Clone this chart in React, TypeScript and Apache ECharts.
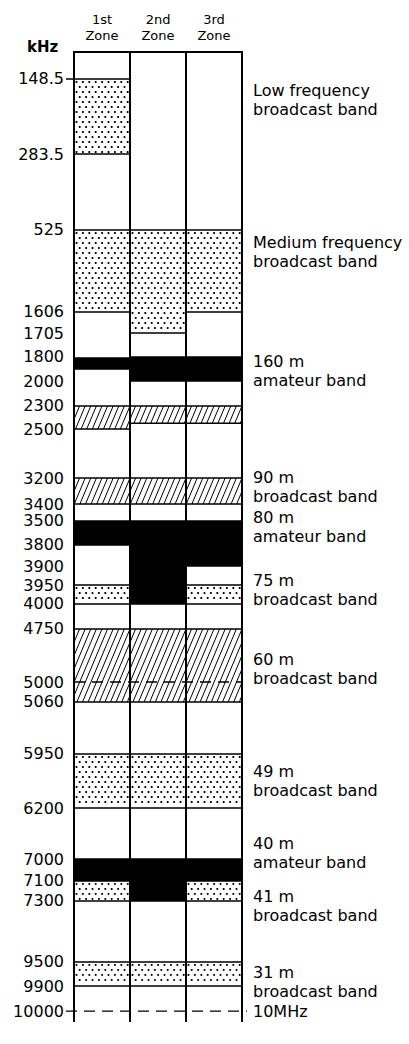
import React, { useEffect, useRef } from "react";
import * as echarts from "echarts";

// ---- data ----
const zones = ["1st\nZone", "2nd\nZone", "3rd\nZone"];

// labelled frequencies (kHz) and their position on the drawing's non-linear scale (% of column height)
const tickKHz = [148.5, 283.5, 525, 1606, 1705, 1800, 2000, 2300, 2500, 3200, 3400, 3500, 3800, 3900, 3950, 4000, 4750, 5000, 5060, 5950, 6200, 7000, 7100, 7300, 9500, 9900, 10000];
const tickLabels = ["148.5", "283.5", "525", "1606", "1705", "1800", "2000", "2300", "2500", "3200", "3400", "3500", "3800", "3900", "3950", "4000", "4750", "5000", "5060", "5950", "6200", "7000", "7100", "7300", "9500", "9900", "10000"];
const scalePos = [2.78, 10.52, 18.35, 26.8, 28.97, 31.44, 33.92, 36.49, 38.87, 43.92, 46.6, 48.35, 50.82, 52.99, 54.95, 56.9, 59.48, 64.95, 67.01, 72.37, 77.94, 83.2, 85.46, 87.52, 93.81, 96.29, 98.87];

// allocations per zone: [from kHz, to kHz, kind]
const zone1Bands: [number, number, string][] = [
  [148.5, 283.5, "dots"], [525, 1606, "dots"], [1810, 1900, "solid"], [2300, 2500, "hatch"],
  [3200, 3400, "hatch"], [3500, 3800, "solid"], [3950, 4000, "dots"], [4750, 5060, "hatch"],
  [5950, 6200, "dots"], [7000, 7100, "solid"], [7100, 7300, "dots"], [9500, 9900, "dots"],
];
const zone2Bands: [number, number, string][] = [
  [525, 1705, "dots"], [1800, 2000, "solid"], [2300, 2450, "hatch"], [3200, 3400, "hatch"],
  [3500, 4000, "solid"], [4750, 5060, "hatch"], [5950, 6200, "dots"], [7000, 7300, "solid"],
  [9500, 9900, "dots"],
];
const zone3Bands: [number, number, string][] = [
  [525, 1606, "dots"], [1800, 2000, "solid"], [2300, 2450, "hatch"], [3200, 3400, "hatch"],
  [3500, 3900, "solid"], [3950, 4000, "dots"], [4750, 5060, "hatch"], [5950, 6200, "dots"],
  [7000, 7100, "solid"], [7100, 7300, "dots"], [9500, 9900, "dots"],
];

const annotationText = [
  "Low frequency\nbroadcast band", "Medium frequency\nbroadcast band", "160 m\namateur band",
  "90 m\nbroadcast band", "80 m\namateur band", "75 m\nbroadcast band", "60 m\nbroadcast band",
  "49 m\nbroadcast band", "40 m\namateur band", "41 m\nbroadcast band", "31 m\nbroadcast band", "10MHz",
];
const annotationKHz = [186, 815, 1917, 3272, 3569, 3962, 4941, 6075, 6906, 7498, 9825, 10000];

const dashedKHz = [5000, 10000];

// ---- helpers ----
const kinds = ["white", "dots", "hatch", "solid"];

function toPos(khz: number): number {
  if (khz <= tickKHz[0]) return scalePos[0];
  for (let i = 1; i < tickKHz.length; i++) {
    if (khz <= tickKHz[i]) {
      const t = (khz - tickKHz[i - 1]) / (tickKHz[i] - tickKHz[i - 1]);
      return scalePos[i - 1] + t * (scalePos[i] - scalePos[i - 1]);
    }
  }
  return scalePos[scalePos.length - 1];
}

function bandData() {
  const all = [zone1Bands, zone2Bands, zone3Bands];
  const out: number[][] = [];
  all.forEach((list, z) => {
    list.forEach(([a, b, k]) => out.push([z, toPos(a), toPos(b), kinds.indexOf(k)]));
  });
  return out;
}

function renderBand(params: any, api: any) {
  const zone = api.value(0);
  const c0 = api.coord([zone, api.value(1)]);
  const c1 = api.coord([zone, api.value(2)]);
  const kind = api.value(3);
  const w = api.size([1, 0])[0];
  const x0 = c0[0] - w / 2;
  const x1 = c0[0] + w / 2;
  const y0 = Math.min(c0[1], c1[1]);
  const y1 = Math.max(c0[1], c1[1]);
  const h = y1 - y0;
  const children: any[] = [];
  children.push({
    type: "rect",
    shape: { x: x0, y: y0, width: w, height: h },
    style: { fill: kind === 3 ? "#000" : "#fff" },
  });
  if (kind === 1) {
    let row = 0;
    for (let y = y0 + 3; y < y1 - 1.5; y += 5, row++) {
      for (let x = x0 + 2.5 + (row % 2) * 3.2; x < x1 - 1.5; x += 6.4) {
        children.push({ type: "circle", shape: { cx: x, cy: y, r: 1.05 }, style: { fill: "#000" } });
      }
    }
  }
  if (kind === 2) {
    const k = 0.42;
    const s = 5.6;
    for (let c = x0 - k * h; c < x1; c += s) {
      const yTop = Math.max(y0, y1 - (x1 - c) / k);
      const yBot = Math.min(y1, y1 - (x0 - c) / k);
      if (yBot - yTop > 0.5) {
        children.push({
          type: "line",
          shape: { x1: c + k * (y1 - yBot), y1: yBot, x2: c + k * (y1 - yTop), y2: yTop },
          style: { stroke: "#000", lineWidth: 1 },
        });
      }
    }
  }
  children.push({
    type: "rect",
    shape: { x: x0, y: y0, width: w, height: h },
    style: { fill: "none", stroke: "#000", lineWidth: 1.6 },
  });
  return { type: "group", children };
}

function renderFrame(params: any, api: any) {
  const cs = params.coordSys;
  const zone = api.value(0);
  const c = api.coord([zone, 0]);
  const w = api.size([1, 0])[0];
  const x0 = c[0] - w / 2;
  const x1 = c[0] + w / 2;
  return {
    type: "polyline",
    shape: { points: [[x0, cs.y + cs.height], [x0, cs.y], [x1, cs.y], [x1, cs.y + cs.height]] },
    style: { fill: "none", stroke: "#000", lineWidth: 2 },
  };
}

function renderDashed(params: any, api: any) {
  const cs = params.coordSys;
  const y = api.coord([0, api.value(0)])[1];
  const extended = api.value(1) === 1;
  const xa = extended ? cs.x - 8 : cs.x;
  const xb = extended ? cs.x + cs.width + 5 : cs.x + cs.width;
  return {
    type: "line",
    shape: { x1: xa, y1: y, x2: xb, y2: y },
    style: { stroke: "#000", lineWidth: 1.3, lineDash: [11, 7] },
  };
}

function renderNote(params: any, api: any) {
  const cs = params.coordSys;
  const y = api.coord([0, api.value(0)])[1];
  const idx = api.value(1);
  return {
    type: "text",
    x: cs.x + cs.width + 11,
    y: y,
    style: {
      text: annotationText[idx],
      fill: "#000",
      font: "16px 'DejaVu Sans'",
      lineHeight: 19,
      align: "left",
      verticalAlign: "middle",
    },
  };
}

export default function App() {
  const ref = useRef<HTMLDivElement>(null);
  useEffect(() => {
    document.body.style.margin = "0";
    if (!ref.current) return;
    const chart = echarts.init(ref.current, undefined, { renderer: "svg" });
    const font = "DejaVu Sans";
    chart.setOption({
      animation: false,
      backgroundColor: "#fff",
      title: {
        text: "kHz",
        left: 27,
        top: 39,
        padding: 0,
        textStyle: { fontFamily: font, fontSize: 15, fontWeight: "bold", color: "#000" },
      },
      grid: { left: 74, right: 167, top: 52, bottom: 22 },
      xAxis: {
        type: "category",
        data: zones,
        position: "top",
        axisLine: { show: false },
        axisTick: { show: false },
        splitLine: { show: false },
        axisLabel: { fontFamily: font, fontSize: 13, lineHeight: 16, margin: 9, color: "#000" },
      },
      yAxis: {
        type: "value",
        min: 0,
        max: 100,
        inverse: true,
        axisLine: { show: false },
        splitLine: { show: false },
        axisTick: {
          show: true,
          customValues: [toPos(148.5)],
          length: 8,
          lineStyle: { color: "#000", width: 1.5 },
        },
        axisLabel: {
          customValues: scalePos,
          margin: 10,
          fontFamily: font,
          fontSize: 16,
          color: "#000",
          formatter: (v: number) => {
            const i = scalePos.findIndex((p) => Math.abs(p - v) < 1e-6);
            return i >= 0 ? tickLabels[i] : "";
          },
        },
      },
      series: [
        {
          type: "custom",
          name: "allocations",
          silent: true,
          renderItem: renderBand,
          encode: { x: 0, y: [1, 2] },
          data: bandData(),
          z: 2,
        },
        {
          type: "custom",
          name: "frame",
          silent: true,
          renderItem: renderFrame,
          encode: { x: 0 },
          data: zones.map((_, i) => [i]),
          z: 3,
        },
        {
          type: "custom",
          name: "dashed",
          silent: true,
          renderItem: renderDashed,
          encode: { y: 0 },
          data: dashedKHz.map((k, i) => [toPos(k), i]),
          z: 4,
        },
        {
          type: "custom",
          name: "notes",
          silent: true,
          renderItem: renderNote,
          encode: { y: 0 },
          data: annotationKHz.map((k, i) => [toPos(k), i]),
          z: 5,
        },
      ],
    });
    return () => chart.dispose();
  }, []);
  return <div ref={ref} style={{ width: 409, height: 1044 }} />;
}
